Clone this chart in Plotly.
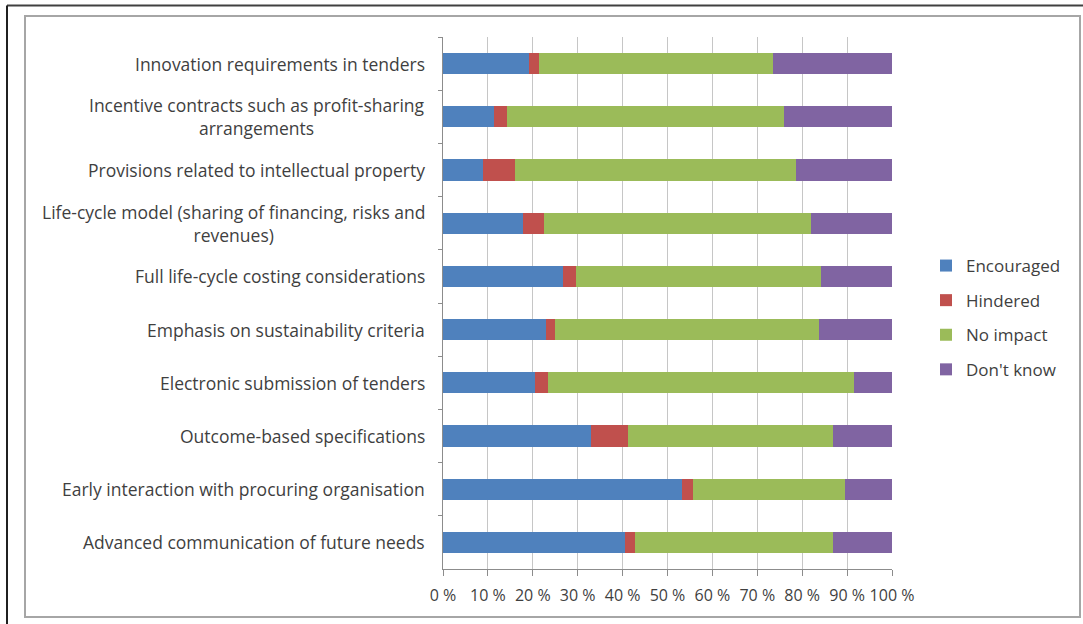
import plotly.graph_objects as go

categories = [
    "Innovation requirements in tenders",
    "Incentive contracts such as profit-sharing<br>arrangements",
    "Provisions related to intellectual property",
    "Life-cycle model (sharing of financing, risks and<br>revenues)",
    "Full life-cycle costing considerations",
    "Emphasis on sustainability criteria",
    "Electronic submission of tenders",
    "Outcome-based specifications",
    "Early interaction with procuring organisation",
    "Advanced communication of future needs",
]
encouraged = [19.1, 11.4, 8.8, 17.8, 26.7, 22.9, 20.5, 33.0, 53.3, 40.6]
hindered   = [2.2, 2.9, 7.3, 4.6, 2.9, 2.1, 2.9, 8.1, 2.3, 2.1]
no_impact  = [52.1, 61.6, 62.6, 59.6, 54.6, 58.7, 68.1, 45.7, 34.0, 44.1]
dont_know  = [26.6, 24.1, 21.3, 18.0, 15.8, 16.3, 8.5, 13.2, 10.4, 13.2]
series_names = ["Encouraged", "Hindered", "No impact", "Don't know"]
x_ticks = [0, 10, 20, 30, 40, 50, 60, 70, 80, 90, 100]
x_tick_text = [f"{v} %" for v in x_ticks]

colors = ["#4F81BD", "#C0504D", "#9BBB59", "#8064A2"]
FONT = "Open Sans, Lato, sans-serif"
TXT = "#3F3F3F"

W, H = 1083, 624
L, R, T, B = 443, 1083 - 892, 37, 624 - 569
pw, ph = W - L - R, H - T - B

def px(xp):
    return (xp - L) / pw

def py(yp):
    return (H - B - yp) / ph

fig = go.Figure()
for name, vals, col in zip(series_names, [encouraged, hindered, no_impact, dont_know], colors):
    fig.add_trace(go.Bar(
        y=categories, x=vals, name=name, orientation="h",
        marker=dict(color=col, line=dict(width=0)),
        legendgroup=name,
    ))

for cat in categories:
    fig.add_annotation(
        x=0, y=cat, xref="x", yref="y", text=cat, showarrow=False,
        xanchor="right", align="center", xshift=-16,
        font=dict(family=FONT, size=17.5, color=TXT),
    )

shapes = [
    dict(type="rect", xref="paper", yref="paper",
         x0=px(25), x1=px(1080), y0=py(617), y1=py(16),
         line=dict(color="#A6A6A6", width=2), layer="below"),
    dict(type="line", xref="paper", yref="paper",
         x0=px(7), x1=px(1090), y0=py(5.5), y1=py(5.5),
         line=dict(color="#404040", width=2), layer="below"),
    dict(type="line", xref="paper", yref="paper",
         x0=px(7), x1=px(7), y0=py(5.5), y1=py(640),
         line=dict(color="#202020", width=2), layer="below"),
]

fig.update_layout(
    width=W, height=H,
    margin=dict(l=L, r=R, t=T, b=B),
    barmode="stack", bargap=0.605,
    paper_bgcolor="white", plot_bgcolor="white",
    font=dict(family=FONT, size=16, color=TXT),
    shapes=shapes,
    showlegend=True,
    legend=dict(
        x=px(926), xanchor="left", y=py(248), yanchor="top",
        traceorder="grouped", tracegroupgap=9.5,
        font=dict(family=FONT, size=17, color=TXT),
        bgcolor="rgba(0,0,0,0)",
    ),
    xaxis=dict(
        range=[0, 100], tickmode="array", tickvals=x_ticks, ticktext=x_tick_text,
        showgrid=True, gridcolor="#C6C6C6", gridwidth=1,
        showline=True, linecolor="#8C8C8C", linewidth=1,
        ticks="outside", ticklen=6, tickcolor="#8C8C8C",
        ticklabelstandoff=6,
        tickfont=dict(family=FONT, size=16, color=TXT),
        zeroline=False, fixedrange=True,
    ),
    yaxis=dict(
        autorange="reversed", showticklabels=False,
        showline=True, linecolor="#8C8C8C", linewidth=1,
        ticks="outside", ticklen=4, tickcolor="#8C8C8C", tickson="boundaries",
        showgrid=False, fixedrange=True,
    ),
)

fig.write_html("out.html")
